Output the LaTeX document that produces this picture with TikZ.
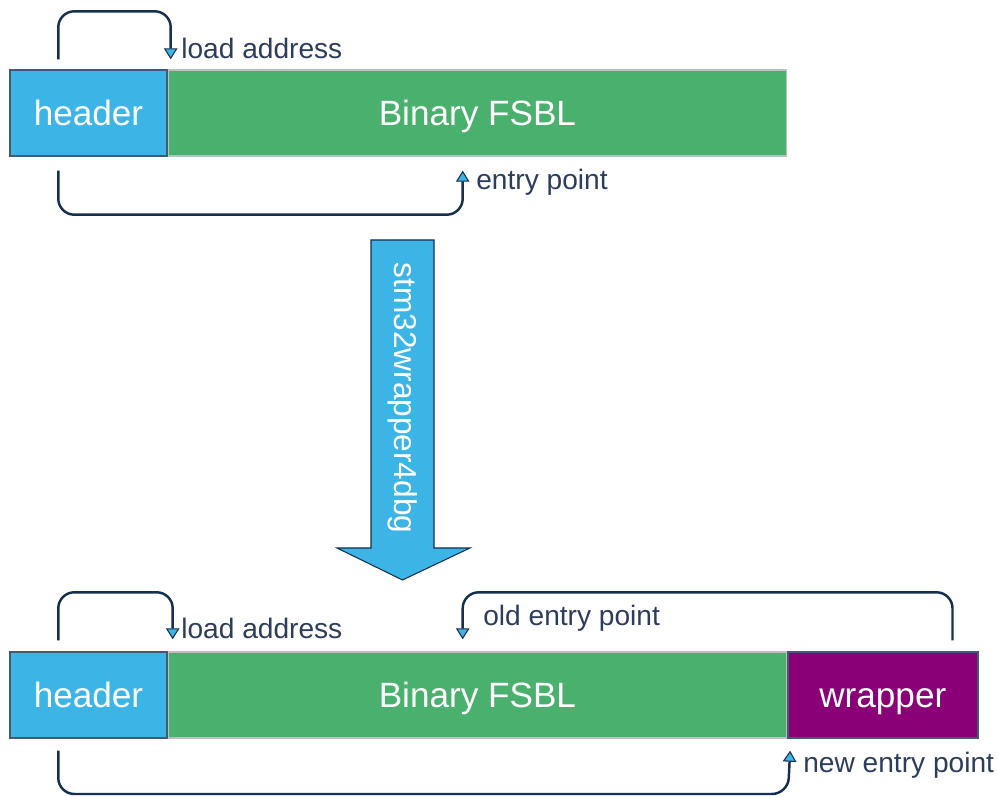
\documentclass[tikz,border=0pt]{standalone}
\usepackage{fontspec}
\setmainfont{Liberation Sans}
\usepackage{xcolor}
\usetikzlibrary{arrows.meta,positioning}

\definecolor{hdrblue}{HTML}{3CB4E6}
\definecolor{fsblgreen}{HTML}{4AB06D}
\definecolor{wrappurple}{HTML}{8A0077}
\definecolor{linenavy}{HTML}{15304F}
\definecolor{textnavy}{HTML}{2C3D5B}

\tikzset{
  seg/.style={draw, minimum height=1.72cm, inner sep=0pt, text=white,
    text height=16pt, text depth=2pt,
    font=\fontsize{20}{24}\selectfont, line width=0.8pt},
  lbl/.style={anchor=west, inner sep=0pt, text=textnavy,
    font=\fontsize{16}{19}\selectfont},
  jump/.style={draw=linenavy, line width=1.4pt, rounded corners=0.32cm,
    -{Triangle[width=0.27cm, length=0.22cm, fill=hdrblue, line width=0.6pt]}}
}

\begin{document}
\begin{tikzpicture}
  \useasboundingbox (0,0) rectangle (19.96,15.92);

  % before
  \node [seg, fill=hdrblue, draw=linenavy!80, minimum width=3.14cm] (hdrA) at (1.77,13.66) {header};
  \node [seg, fill=fsblgreen, draw=gray!50, minimum width=12.36cm, right=0pt of hdrA] (fsblA) {Binary FSBL};

  \draw [jump] ([xshift=9.8mm,yshift=2mm]hdrA.north west) -- ++(0,0.96)
    -| ([xshift=0.6mm,yshift=2mm]hdrA.north east);
  \node [lbl] (loadA) at (3.62,14.96) {load address};

  \draw [jump] ([xshift=9.8mm,yshift=-2.8mm]hdrA.south west) -- ++(0,-0.88)
    -| ([xshift=5.9cm,yshift=-2.8mm]fsblA.south west);
  \node [lbl] (entryA) at (9.52,12.28) {entry point};

  % tool
  \draw [fill=hdrblue, draw=linenavy, line width=0.6pt]
    (7.42,11.12) -- (8.68,11.12) -- (8.68,4.96) -- (9.40,4.96)
    -- (8.05,4.32) -- (6.74,4.96) -- (7.42,4.96) -- cycle;
  \node [rotate=-90, text=white, font=\fontsize{18}{22}\selectfont] (tool) at (8.05,7.96) {stm32wrapper4dbg};

  % after
  \node [seg, fill=hdrblue, draw=linenavy!80, minimum width=3.14cm] (hdrB) at (1.77,2.02) {header};
  \node [seg, fill=fsblgreen, draw=gray!50, minimum width=12.36cm, right=0pt of hdrB] (fsblB) {Binary FSBL};
  \node [seg, fill=wrappurple, draw=linenavy!80, minimum width=3.8cm, right=0pt of fsblB] (wrapB) {wrapper};

  \draw [jump] ([xshift=9.8mm,yshift=2.2mm]hdrB.north west) -- ++(0,0.96)
    -| ([xshift=1mm,yshift=2.4mm]hdrB.north east);
  \node [lbl] (loadB) at (3.62,3.36) {load address};

  \draw [jump] ([xshift=-5.2mm,yshift=2.2mm]wrapB.north east) -- ++(0,0.96)
    -| ([xshift=5.9cm,yshift=2.4mm]fsblB.north west);
  \node [lbl] (oldB) at (9.66,3.56) {old entry point};

  \draw [jump] ([xshift=9.8mm,yshift=-2.4mm]hdrB.south west) |- (15.76,0.04)
    -- ([xshift=0.6mm,yshift=-2.4mm]fsblB.south east);
  \node [lbl] (newB) at (16.06,0.62) {new entry point};
\end{tikzpicture}
\end{document}
